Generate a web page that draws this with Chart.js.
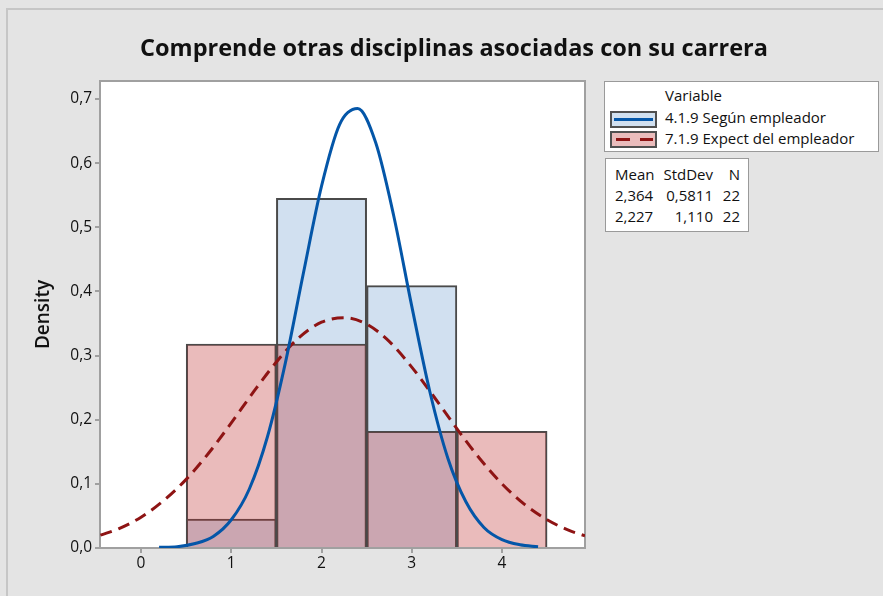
<!DOCTYPE html>
<html>
<head>
<meta charset="utf-8">
<script src="https://cdn.jsdelivr.net/npm/chart.js@4/dist/chart.umd.min.js"></script>
<style>
  body { margin: 0; background: #e4e4e4; overflow: hidden; }
  #wrap { position: relative; width: 883px; height: 596px; }
  #frame { position: absolute; left: 6px; top: 8px; width: 900px; height: 700px;
           border-top: 2px solid #c6c6c6; border-left: 2px solid #c6c6c6; }
  canvas { position: absolute; left: 0; top: 0; }
  #title { position: absolute; left: 0; width: 908px; top: 31px; text-align: center;
           font: 700 23.5px "Open Sans", sans-serif; color: #111; white-space: nowrap; }
  .box { position: absolute; background: #fff; border: 1.5px solid #9a9a9a;
         font: 15px "Open Sans", sans-serif; color: #111; }
  #legend { left: 604px; top: 81px; width: 273px; height: 69px; }
  #legend .row { position: absolute; left: 60px; white-space: nowrap; line-height: 18px; }
  .sw { position: absolute; left: 5px; width: 43px; height: 13px; border: 2px solid #505050; }
  .sw div { position: absolute; left: 2px; right: 2px; top: 5px; height: 3px; }
  #stats { left: 605px; top: 158px; width: 142px; height: 72px; }
  #stats span { position: absolute; white-space: nowrap; line-height: 18px; }
</style>
</head>
<body>
<div id="wrap">
  <div id="frame"></div>
  <canvas id="mychart" width="883" height="596"></canvas>
  <div id="title">Comprende otras disciplinas asociadas con su carrera</div>
  <div id="legend" class="box"></div>
  <div id="stats" class="box"></div>
</div>
<script>
// histogram bins (centre of each bin, width 1)
var binCenters = [1, 2, 3, 4];
var segunDensity = [0.045, 0.545, 0.409, 0];
var expectDensity = [0.318, 0.318, 0.182, 0.182];

// fitted curves
var segunCurveX = [0.2, 0.4, 0.6, 0.8, 1.0, 1.2, 1.4, 1.6, 1.8, 2.0, 2.2, 2.4, 2.6, 2.8, 3.0, 3.2, 3.4, 3.6, 3.8, 4.0, 4.2, 4.4];
var segunCurveY = [0.001, 0.002, 0.007, 0.018, 0.044, 0.092, 0.173, 0.289, 0.429, 0.564, 0.660, 0.685, 0.632, 0.518, 0.377, 0.244, 0.140, 0.072, 0.032, 0.013, 0.005, 0.002];
var expectCurveX = [-0.45, -0.25, 0, 0.25, 0.5, 0.75, 1.0, 1.25, 1.5, 1.75, 2.0, 2.25, 2.5, 2.75, 3.0, 3.25, 3.5, 3.75, 4.0, 4.25, 4.5, 4.75, 4.92];
var expectCurveY = [0.020, 0.030, 0.048, 0.074, 0.107, 0.148, 0.195, 0.244, 0.290, 0.328, 0.352, 0.359, 0.349, 0.322, 0.282, 0.235, 0.186, 0.140, 0.100, 0.068, 0.044, 0.027, 0.019];

var xTicks = [0, 1, 2, 3, 4];
var yTicks = [0, 0.1, 0.2, 0.3, 0.4, 0.5, 0.6, 0.7];

var seriesNames = ['4.1.9 Según empleador', '7.1.9 Expect del empleador'];
var statsMean = ['2,364', '2,227'];
var statsStdDev = ['0,5811', '1,110'];
var statsN = ['22', '22'];

function pts(xs, ys) {
    var out = [];
    for (var i = 0; i < xs.length; i++) out.push({x: xs[i], y: ys[i]});
    return out;
}

var axisGray = '#a0a0a0';

// white plot area and frame
var plotFrame = {
    id: 'plotFrame',
    beforeDatasetsDraw: function(chart) {
        var a = chart.chartArea, c = chart.ctx;
        c.save();
        c.fillStyle = '#fff';
        c.fillRect(a.left, a.top, a.right - a.left, a.bottom - a.top);
        c.strokeStyle = axisGray;
        c.lineWidth = 2;
        c.strokeRect(a.left, a.top, a.right - a.left, a.bottom - a.top);
        c.restore();
    }
};

var tickFont = {family: '"Open Sans", sans-serif', size: 15.5};

var ctx = document.getElementById('mychart');
var myChart = new Chart(ctx, {
    type: 'bar',
    data: {
      datasets: [{
        type: 'line',
        label: seriesNames[0] + ' fit',
        data: pts(segunCurveX, segunCurveY),
        borderColor: '#0456a8',
        borderWidth: 3,
        pointRadius: 0,
        cubicInterpolationMode: 'monotone',
        order: 0
      }, {
        type: 'line',
        label: seriesNames[1] + ' fit',
        data: pts(expectCurveX, expectCurveY),
        borderColor: '#8e1414',
        borderWidth: 3,
        borderDash: [12, 7],
        pointRadius: 0,
        cubicInterpolationMode: 'monotone',
        order: 0
      }, {
        label: seriesNames[1],
        data: pts(binCenters, expectDensity),
        backgroundColor: 'rgba(190,45,45,0.32)',
        borderColor: '#4a4a4a',
        borderWidth: 1.5,
        barPercentage: 1,
        categoryPercentage: 1,
        grouped: false,
        order: 1
      }, {
        label: seriesNames[0],
        data: pts(binCenters, segunDensity),
        backgroundColor: 'rgb(209,224,240)',
        borderColor: '#4a4a4a',
        borderWidth: 2,
        barPercentage: 1,
        categoryPercentage: 1,
        grouped: false,
        order: 2
      }]
    },
    options: {
      responsive: false,
      animation: false,
      layout: {padding: {top: 81, right: 298, left: 0, bottom: 0}},
      plugins: {legend: {display: false}, tooltip: {enabled: false}},
      scales: {
        x: {
          type: 'linear',
          min: -0.455,
          max: 4.92,
          offset: false,
          afterBuildTicks: function(s) { s.ticks = xTicks.map(function(v) { return {value: v}; }); },
          afterFit: function(s) { s.height = 48; },
          border: {display: false},
          grid: {offset: false, drawOnChartArea: false, drawTicks: true, tickLength: 5, color: axisGray, lineWidth: 2},
          ticks: {color: '#111', font: tickFont, padding: 1, maxRotation: 0}
        },
        y: {
          min: 0,
          max: 0.728,
          afterBuildTicks: function(s) { s.ticks = yTicks.map(function(v) { return {value: v}; }); },
          afterFit: function(s) { s.width = 100; },
          border: {display: false},
          grid: {drawOnChartArea: false, drawTicks: true, tickLength: 5, color: axisGray, lineWidth: 2},
          ticks: {color: '#111', font: tickFont, padding: 3,
                  callback: function(v) { return v.toFixed(1).replace('.', ','); }},
          title: {display: true, text: 'Density', color: '#111',
                  font: {family: '"Open Sans", sans-serif', size: 19, weight: '600'},
                  padding: {top: 32, bottom: 0}}
        }
      }
    },
    plugins: [plotFrame]
});

// legend box
var legend = document.getElementById('legend');
var head = document.createElement('div');
head.className = 'row';
head.style.top = '4px';
head.textContent = 'Variable';
legend.appendChild(head);
var swFill = ['rgb(209,224,240)', 'rgb(234,188,188)'];
var swLine = ['#0456a8', 'repeating-linear-gradient(90deg, #8e1414 0 14px, transparent 14px 24px)'];
for (var i = 0; i < seriesNames.length; i++) {
    var sw = document.createElement('div');
    sw.className = 'sw';
    sw.style.top = (29 + i * 20) + 'px';
    sw.style.background = swFill[i];
    var ln = document.createElement('div');
    ln.style.background = swLine[i];
    if (i == 1) ln.style.left = '4px';
    sw.appendChild(ln);
    legend.appendChild(sw);
    var row = document.createElement('div');
    row.className = 'row';
    row.style.top = (26 + i * 21) + 'px';
    row.textContent = seriesNames[i];
    legend.appendChild(row);
}

// stats box
var stats = document.getElementById('stats');
function cell(text, top, left, right) {
    var s = document.createElement('span');
    s.textContent = text;
    s.style.top = top + 'px';
    if (left != null) s.style.left = left + 'px';
    else s.style.right = right + 'px';
    stats.appendChild(s);
}
cell('Mean', 6, 9);
cell('StdDev', 6, null, 35);
cell('N', 6, null, 8);
for (var i = 0; i < statsMean.length; i++) {
    cell(statsMean[i], 27 + i * 21, 9);
    cell(statsStdDev[i], 27 + i * 21, null, 35);
    cell(statsN[i], 27 + i * 21, null, 8);
}
</script>
</body>
</html>
